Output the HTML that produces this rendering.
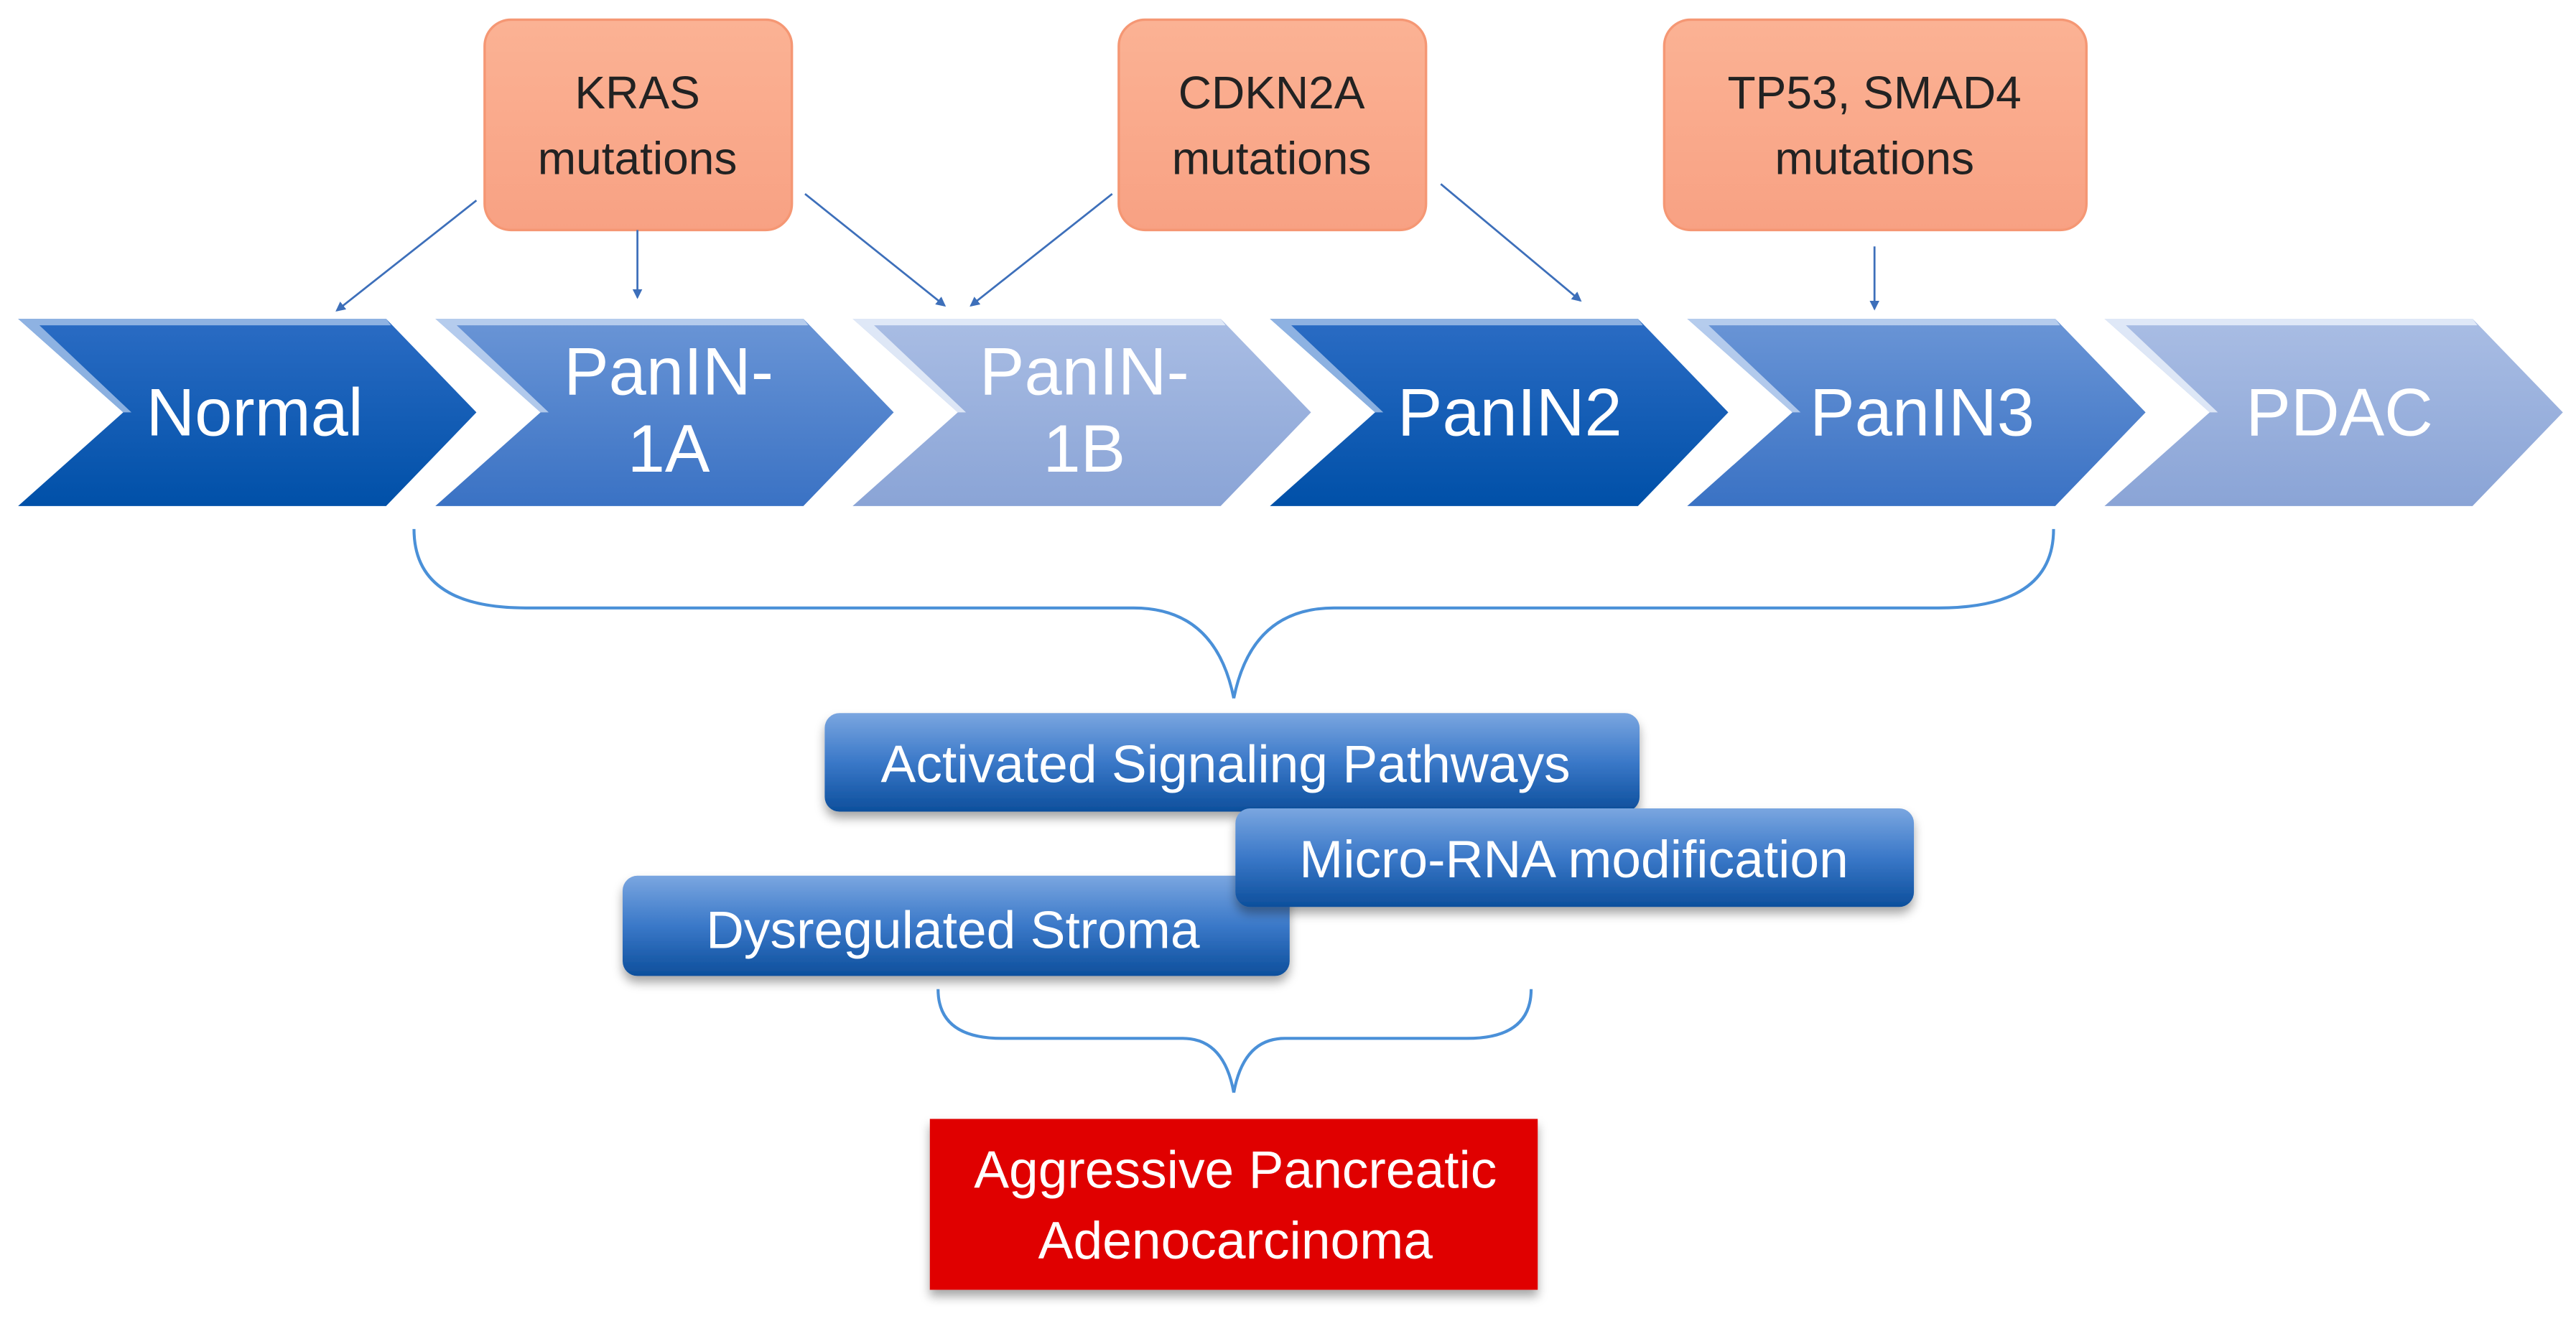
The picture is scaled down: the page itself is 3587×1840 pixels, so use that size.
<!DOCTYPE html>
<html><head><meta charset="utf-8"><style>
html,body{margin:0;padding:0;background:#fff}
svg{display:block}
text{font-family:"Liberation Sans Narrow","Liberation Sans",sans-serif}
</style></head><body>
<svg width="3587" height="1840" viewBox="0 0 1568 804" preserveAspectRatio="none" xmlns="http://www.w3.org/2000/svg">
<defs>
<linearGradient id="dk" x1="0" y1="0" x2="0" y2="1"><stop offset="0" stop-color="#2b6cc4"/><stop offset="1" stop-color="#0050a8"/></linearGradient>
<linearGradient id="md" x1="0" y1="0" x2="0" y2="1"><stop offset="0" stop-color="#6a95d6"/><stop offset="1" stop-color="#3a72c4"/></linearGradient>
<linearGradient id="lt" x1="0" y1="0" x2="0" y2="1"><stop offset="0" stop-color="#a9bde4"/><stop offset="1" stop-color="#8aa4d6"/></linearGradient>
<linearGradient id="bb" x1="0" y1="0" x2="0" y2="1"><stop offset="0" stop-color="#7aa6e0"/><stop offset="0.5" stop-color="#3a78c8"/><stop offset="1" stop-color="#0d4f9c"/></linearGradient>
<linearGradient id="or" x1="0" y1="0" x2="0" y2="1"><stop offset="0" stop-color="#fbb294"/><stop offset="1" stop-color="#f8a183"/></linearGradient>
<filter id="sh" x="-10%" y="-10%" width="120%" height="130%"><feDropShadow dx="0" dy="4" stdDeviation="3" flood-color="#000" flood-opacity="0.35"/></filter>
<marker id="ar" markerWidth="6" markerHeight="6" refX="5" refY="3" orient="auto" markerUnits="userSpaceOnUse"><path d="M0,0 L6,3 L0,6 z" fill="#3d6fba"/></marker>
</defs>

<rect x="295" y="12" width="187" height="128" rx="16" fill="url(#or)" stroke="#f59774" stroke-width="1.5"/>
<rect x="681" y="12" width="187" height="128" rx="16" fill="url(#or)" stroke="#f59774" stroke-width="1.5"/>
<rect x="1013" y="12" width="257" height="128" rx="16" fill="url(#or)" stroke="#f59774" stroke-width="1.5"/>
<g fill="#222" font-size="28" text-anchor="middle">
<text x="388" y="66">KRAS</text><text x="388" y="106">mutations</text>
<text x="774" y="66">CDKN2A</text><text x="774" y="106">mutations</text>
<text x="1141" y="66">TP53, SMAD4</text><text x="1141" y="106">mutations</text>
</g>

<g stroke="#3d6fba" stroke-width="1.2" fill="none" marker-end="url(#ar)">
<line x1="290" y1="122" x2="205" y2="189"/>
<line x1="388" y1="140" x2="388" y2="181"/>
<line x1="490" y1="118" x2="575" y2="186"/>
<line x1="677" y1="118" x2="591" y2="186"/>
<line x1="877" y1="112" x2="962" y2="183"/>
<line x1="1141" y1="150" x2="1141" y2="188"/>
</g>

<g>
<path d="M11,194 L235,194 L290,251 L235,308 L11,308 L75,251 Z" fill="url(#dk)"/>
<path d="M11,194 L235,194 L238,198 L24,198 L80,251 L75,251 Z" fill="#a8c4ea" opacity="0.8"/>
<path d="M265,194 L489,194 L544,251 L489,308 L265,308 L329,251 Z" fill="url(#md)"/>
<path d="M265,194 L489,194 L492,198 L278,198 L334,251 L329,251 Z" fill="#c8d9f2" opacity="0.8"/>
<path d="M519,194 L743,194 L798,251 L743,308 L519,308 L583,251 Z" fill="url(#lt)"/>
<path d="M519,194 L743,194 L746,198 L532,198 L588,251 L583,251 Z" fill="#e4ecf8" opacity="0.9"/>
<path d="M773,194 L997,194 L1052,251 L997,308 L773,308 L837,251 Z" fill="url(#dk)"/>
<path d="M773,194 L997,194 L1000,198 L786,198 L842,251 L837,251 Z" fill="#a8c4ea" opacity="0.8"/>
<path d="M1027,194 L1251,194 L1306,251 L1251,308 L1027,308 L1091,251 Z" fill="url(#md)"/>
<path d="M1027,194 L1251,194 L1254,198 L1040,198 L1096,251 L1091,251 Z" fill="#c8d9f2" opacity="0.8"/>
<path d="M1281,194 L1505,194 L1560,251 L1505,308 L1281,308 L1345,251 Z" fill="url(#lt)"/>
<path d="M1281,194 L1505,194 L1508,198 L1294,198 L1350,251 L1345,251 Z" fill="#e4ecf8" opacity="0.9"/>
</g>
<g fill="#fff" font-size="41" text-anchor="middle">
<text x="155" y="265">Normal</text>
<text x="407" y="240">PanIN-</text><text x="407" y="287">1A</text>
<text x="660" y="240">PanIN-</text><text x="660" y="287">1B</text>
<text x="919" y="265">PanIN2</text>
<text x="1170" y="265">PanIN3</text>
<text x="1424" y="265">PDAC</text>
</g>

<g fill="none" stroke="#4a90d8" stroke-width="1.8">
<path d="M252,322 Q252,370 320,370 L690,370 Q740,370 751,425"/>
<path d="M1250,322 Q1250,370 1180,370 L812,370 Q762,370 751,425"/>
<path d="M571,602 Q571,632 610,632 L720,632 Q745,632 751,665"/>
<path d="M932,602 Q932,632 893,632 L782,632 Q757,632 751,665"/>
</g>

<rect x="502" y="434" width="496" height="60" rx="9" fill="url(#bb)" filter="url(#sh)"/>
<rect x="379" y="533" width="406" height="61" rx="9" fill="url(#bb)" filter="url(#sh)"/>
<rect x="752" y="492" width="413" height="60" rx="9" fill="url(#bb)" filter="url(#sh)"/>
<g fill="#fff" font-size="32" text-anchor="middle">
<text x="746" y="476">Activated Signaling Pathways</text>
<text x="958" y="534">Micro-RNA modification</text>
<text x="580" y="577">Dysregulated Stroma</text>
</g>

<rect x="566" y="681" width="370" height="104" fill="#e00000" filter="url(#sh)"/>
<g fill="#fff" font-size="32" text-anchor="middle">
<text x="752" y="723">Aggressive Pancreatic</text>
<text x="752" y="766">Adenocarcinoma</text>
</g>
</svg>
</body></html>
